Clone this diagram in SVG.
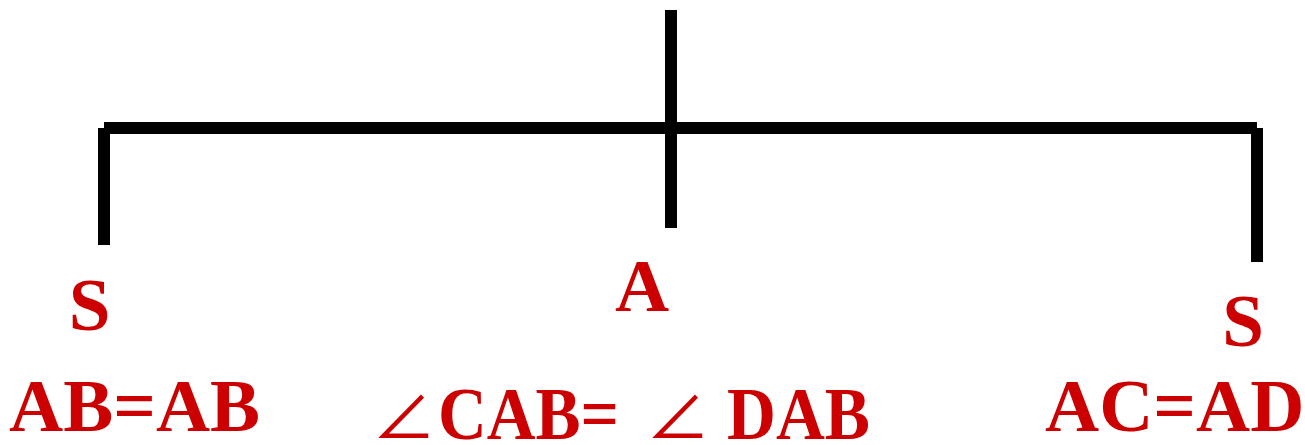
<svg xmlns="http://www.w3.org/2000/svg" width="1305" height="445" viewBox="0 0 1305 445">
<style>
.ln{stroke:#000;stroke-width:12;fill:none;stroke-linecap:butt}
.t{font-family:'Liberation Serif',serif;font-weight:700;font-size:75px;fill:#CC0000}
.ang{font-family:'Noto Sans CJK SC',sans-serif;font-weight:normal;font-size:64px;fill:#CC0000}
</style>
<rect width="1305" height="445" fill="#fff"/>
<g id="connectors">
<line class="ln" x1="671" y1="10" x2="671" y2="228"/>
<line class="ln" x1="104" y1="128" x2="1257" y2="128"/>
<line class="ln" x1="104" y1="128" x2="104" y2="245"/>
<line class="ln" x1="1257" y1="128" x2="1257" y2="262"/>
</g>
<g id="node-left">
<text class="t" x="89.5" y="330" text-anchor="middle">S</text>
<text class="t" x="9" y="431">AB=AB</text>
</g>
<g id="node-center">
<text class="t" x="642" y="311" text-anchor="middle">A</text>
<text class="ang" x="372" y="439">∠</text>
<text class="t" x="438" y="439" textLength="181" lengthAdjust="spacingAndGlyphs">CAB=</text>
<text class="ang" x="646" y="439">∠</text>
<text class="t" x="727" y="439" textLength="143" lengthAdjust="spacingAndGlyphs">DAB</text>
</g>
<g id="node-right">
<text class="t" x="1243" y="346" text-anchor="middle">S</text>
<text class="t" x="1045" y="431">AC=AD</text>
</g>
</svg>
